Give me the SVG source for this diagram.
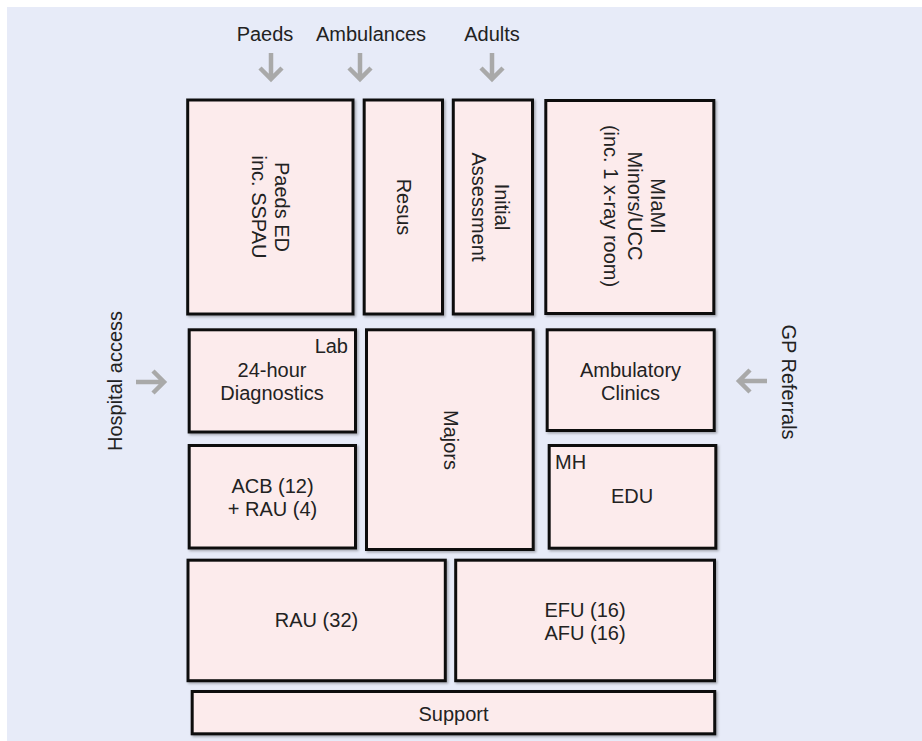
<svg xmlns="http://www.w3.org/2000/svg" width="922" height="741" viewBox="0 0 922 741">
<defs>
<style>
.box{fill:#FCEBEC;stroke:#111;stroke-width:3;filter:url(#sh)}
.t{font-family:"Liberation Sans",Arial,Helvetica,sans-serif;font-size:20px;fill:#222;text-anchor:middle}
.l{text-anchor:start}
.r{text-anchor:end}
.arr{fill:none;stroke:#A9A9A9;stroke-width:4.5;stroke-linejoin:miter;stroke-linecap:butt}
</style>
<filter id="sh" x="-5%" y="-5%" width="115%" height="115%">
<feDropShadow dx="1.5" dy="1.5" stdDeviation="1" flood-color="#000" flood-opacity="0.3"/>
</filter>
</defs>
<rect x="0" y="0" width="922" height="741" fill="#FFFFFF"/>
<rect x="7" y="7" width="915" height="734" fill="#E7EBF8"/>

<g id="labels">
<text class="t" x="265" y="41">Paeds</text>
<text class="t" x="371" y="41">Ambulances</text>
<text class="t" x="492" y="41">Adults</text>
<text class="t" transform="translate(115,381) rotate(-90)" x="0" y="7">Hospital access</text>
<text class="t" transform="translate(789,382) rotate(90)" x="0" y="7">GP Referrals</text>
</g>

<g id="connectors">
<path class="arr" d="M271,53 V79 M260,68 L271,79 L282,68"/>
<path class="arr" d="M360,53 V79 M349,68 L360,79 L371,68"/>
<path class="arr" d="M492,53 V79 M481,68 L492,79 L503,68"/>
<path class="arr" d="M136,382 H164 M153,371 L164,382 L153,393"/>
<path class="arr" d="M767,381 H739 M750,370 L739,381 L750,392"/>
</g>

<g id="paeds-ed">
<rect class="box" x="187.7" y="100" width="165.3" height="214"/>
<text class="t" transform="translate(270,207) rotate(90)"><tspan x="0" y="-5">Paeds ED</tspan><tspan x="0" y="18">inc. SSPAU</tspan></text>
</g>
<g id="resus">
<rect class="box" x="364.2" y="100" width="78.3" height="214"/>
<text class="t" transform="translate(403,207) rotate(90)" x="0" y="6">Resus</text>
</g>
<g id="initial-assessment">
<rect class="box" x="453.3" y="100" width="79.2" height="214"/>
<text class="t" transform="translate(493,207) rotate(90)"><tspan x="0" y="-2">Initial</tspan><tspan x="0" y="21">Assessment</tspan></text>
</g>
<g id="miami">
<rect class="box" x="545.8" y="100.5" width="168" height="213"/>
<text class="t" transform="translate(629.5,206) rotate(90)"><tspan x="0" y="-21.5">MIaMI</tspan><tspan x="0" y="2">Minors/UCC</tspan><tspan x="0" y="26">(inc. 1 x-ray room)</tspan></text>
</g>
<g id="diagnostics">
<rect class="box" x="189.2" y="329.8" width="166.3" height="102.2"/>
<text class="t r" x="348" y="353">Lab</text>
<text class="t" x="272"><tspan x="272" y="377">24-hour</tspan><tspan x="272" y="400">Diagnostics</tspan></text>
</g>
<g id="acb">
<rect class="box" x="189.2" y="445.5" width="166.3" height="102.5"/>
<text class="t"><tspan x="272.5" y="493">ACB (12)</tspan><tspan x="272.5" y="516">+ RAU (4)</tspan></text>
</g>
<g id="majors">
<rect class="box" x="366.5" y="329.8" width="166.7" height="219.7"/>
<text class="t" transform="translate(450,440) rotate(90)" x="0" y="6">Majors</text>
</g>
<g id="ambulatory-clinics">
<rect class="box" x="547.2" y="329.8" width="167" height="100.7"/>
<text class="t"><tspan x="630.5" y="377">Ambulatory</tspan><tspan x="630.5" y="400">Clinics</tspan></text>
</g>
<g id="edu">
<rect class="box" x="549.2" y="445.5" width="166.6" height="102.7"/>
<text class="t l" x="555" y="469">MH</text>
<text class="t" x="632" y="503">EDU</text>
</g>
<g id="rau">
<rect class="box" x="188" y="560.2" width="257.3" height="120.5"/>
<text class="t" x="316.5" y="627">RAU (32)</text>
</g>
<g id="efu-afu">
<rect class="box" x="455.7" y="560.2" width="258.8" height="120.5"/>
<text class="t"><tspan x="585" y="617">EFU (16)</tspan><tspan x="585" y="640">AFU (16)</tspan></text>
</g>
<g id="support">
<rect class="box" x="192.2" y="691.5" width="522.5" height="42.3"/>
<text class="t" x="453.5" y="721">Support</text>
</g>
</svg>
